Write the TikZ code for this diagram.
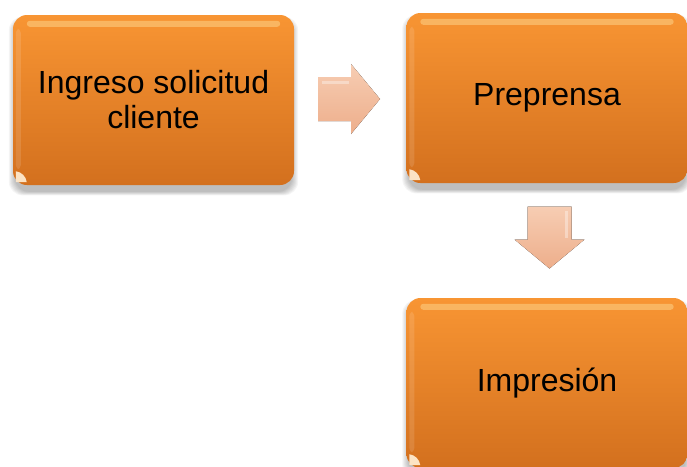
\documentclass[tikz,border=0pt]{standalone}
\usepackage{fontspec}
\setmainfont{Liberation Sans}
\usetikzlibrary{calc,backgrounds}

\definecolor{boxtop}{HTML}{F89533}
\definecolor{boxbot}{HTML}{D3701E}
\definecolor{arrtop}{HTML}{F7CDB3}
\definecolor{arrbot}{HTML}{EDAE8B}
\definecolor{curl}{HTML}{FCE3C4}
\definecolor{shine}{HTML}{FFE9A8}

\tikzset{
  stagebox/.style={rounded corners=14pt, top color=boxtop, bottom color=boxbot,
    draw=none, minimum width=281pt, minimum height=170pt, inner sep=0pt,
    align=center, font=\fontsize{32}{35}\selectfont, text=black},
  blockarrow/.pic={
    \fill[top color=arrtop, bottom color=arrbot]
      (-31,22) -- (2,22) -- (2,35) -- (31,0) -- (2,-35) -- (2,-22) -- (-31,-22) -- cycle;
    \fill[white, opacity=.35] (-27,-18) -- (0,-18) -- (0,-15) -- (-27,-15) -- cycle;
  }
}

% soft shadow under a node (#2: downward offset)
\newcommand\softshadow[2]{%
  \foreach \k in {1,...,7}{
    \fill[black, opacity=.04, rounded corners=14pt]
      ($(#1.south west)+(3pt-\k pt,-#2-\k pt*0.6)$) rectangle
      ($(#1.north east)+(-3pt+\k pt,-#2+\k pt*0.6)$);
  }%
}

% glossy band along the top and the little corner curl
\newcommand\gloss[1]{%
  \fill[shine, opacity=.4, rounded corners=3pt]
    ($(#1.north west)+(14pt,-6pt)$) rectangle ($(#1.north east)+(-14pt,-12pt)$);
  \fill[white, opacity=.12, rounded corners=4pt]
    ($(#1.north west)+(3pt,-14pt)$) rectangle ($(#1.south west)+(8pt,16pt)$);
  \fill[curl]
    ($(#1.south west)+(3pt,3pt)$) -- ($(#1.south west)+(3pt,14pt)$)
    .. controls ($(#1.south west)+(9pt,13pt)$) and ($(#1.south west)+(13pt,9pt)$) ..
    ($(#1.south west)+(14pt,3pt)$) -- cycle;
}

\begin{document}
\begin{tikzpicture}[x=1pt, y=-1pt]
  \useasboundingbox (0,0) rectangle (687,466);

  \node[stagebox] (b1) at (153.5,100) {Ingreso solicitud\\cliente};
  \node[stagebox] (b2) at (547,98) {Preprensa};
  \node[stagebox] (b3) at (547,383) {Impresión};

  \gloss{b1}
  \gloss{b2}
  \gloss{b3}

  \coordinate (a1) at (349,99);
  \coordinate (a2) at (549.5,237.5);

  \begin{scope}[on background layer]
    \fill[white] (0,0) rectangle (687,466);
    \softshadow{b1}{6pt}
    \softshadow{b2}{6pt}
    \softshadow{b3}{6pt}
  \end{scope}

  \pic at (a1) {blockarrow};
  \pic[rotate=-90] at (a2) {blockarrow};
\end{tikzpicture}
\end{document}
